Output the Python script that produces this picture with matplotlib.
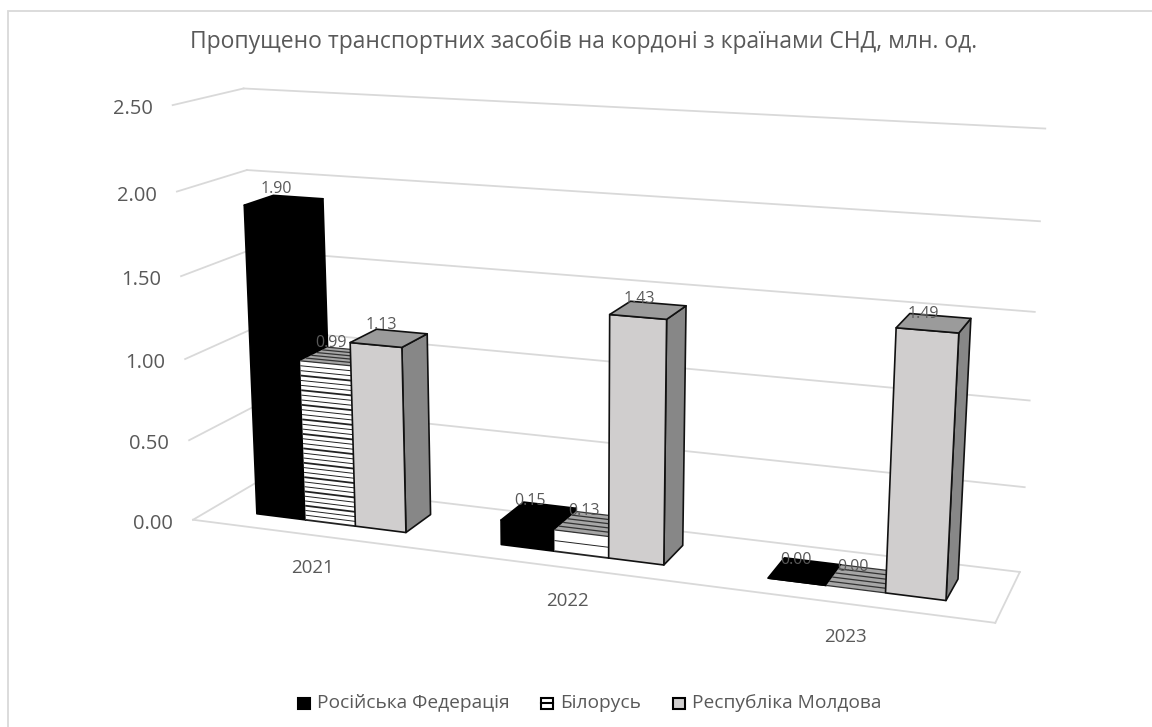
import numpy as np
import matplotlib
matplotlib.use('Agg')
import matplotlib.pyplot as plt
from matplotlib.patches import Polygon, Rectangle

plt.rcParams['font.family'] = ['Open Sans', 'DejaVu Sans']

# data
years = ['2021', '2022', '2023']
series_names = ['Російська Федерація', 'Білорусь', 'Республіка Молдова']
russia = [1.90, 0.15, 0.00]
belarus = [0.99, 0.13, 0.00]
moldova = [1.13, 1.43, 1.49]
y_ticks = [0.0, 0.5, 1.0, 1.5, 2.0, 2.5]
title = 'Пропущено транспортних засобів на кордоні з країнами СНД, млн. од.'

GRID = '#d9d9d9'
TEXT = '#595959'

# camera calibration: (category, depth, value) -> pixel
frame_3d = np.array([[0, 0, 0], [3, 0, 0], [3, 1, 0], [0, 1, 0],
                     [0, 0, 2.5], [0, 1, 2.5], [3, 1, 2.5], [3, 1, 1.0], [0, 1, 1.5], [0, 0, 1.0]], float)
frame_px = np.array([[195, 519], [995, 625], [1020, 570], [258, 482],
                     [171, 106], [246, 87], [1045, 129], [1030, 400], [249, 252], [185, 357]], float)


def fit_camera(p3, p2):
    rows = []
    for (x, y, z), (u, v) in zip(p3, p2):
        rows.append([x, y, z, 1, 0, 0, 0, 0, -u * x, -u * y, -u * z, -u])
        rows.append([0, 0, 0, 0, x, y, z, 1, -v * x, -v * y, -v * z, -v])
    return np.linalg.svd(np.array(rows))[2][-1].reshape(3, 4)


CAM = fit_camera(frame_3d, frame_px)
order = [10]


def next_z():
    order[0] += 1
    return order[0]


def project(x, y, z):
    h = CAM @ np.array([x, y, z, 1.0])
    return h[0] / h[2], h[1] / h[2]


def quad(ax, corners, **kw):
    ax.add_patch(Polygon([project(*c) for c in corners], closed=True, zorder=next_z(), **kw))


def draw_line(ax, a, b, **kw):
    pa, pb = project(*a), project(*b)
    ax.plot([pa[0], pb[0]], [pa[1], pb[1]], zorder=next_z(), **kw)


def draw_bar(ax, x0, x1, d0, d1, val, s):
    z = val
    if s == 0:
        colors = dict(front='black', top='black', side='black')
        edge = 'black'
    elif s == 1:
        colors = dict(front='white', top='#a6a6a6', side='#808080')
        edge = '#111111'
    else:
        colors = dict(front='#d0cece', top='#9b9b9b', side='#878787')
        edge = '#111111'
    lw = 1.2
    quad(ax, [(x1, d0, 0), (x1, d1, 0), (x1, d1, z), (x1, d0, z)],
         fc=colors['side'], ec=edge, lw=lw, joinstyle='round')
    quad(ax, [(x0, d0, 0), (x1, d0, 0), (x1, d0, z), (x0, d0, z)],
         fc=colors['front'], ec=edge if s != 1 else 'none', lw=lw, joinstyle='round')
    quad(ax, [(x0, d0, z), (x1, d0, z), (x1, d1, z), (x0, d1, z)],
         fc=colors['top'], ec=edge if s != 1 else 'none', lw=lw, joinstyle='round')
    if s == 1:
        # stripes of the pattern fill
        step = 0.03 if z > 0.5 else 0.065
        for k, h in enumerate(np.arange(0, z, step)):
            draw_line(ax, (x0, d0, h), (x1, d0, h), color='#222222',
                      lw=1.3 if k % 3 == 0 else 0.7, solid_capstyle='butt')
        for t in np.linspace(d0, d1, 6):
            draw_line(ax, (x0, t, z), (x1, t, z), color='#333333', lw=0.9, solid_capstyle='butt')


fig = plt.figure(figsize=(11.52, 7.27), dpi=100)
ax = fig.add_axes([0, 0, 1, 1])
ax.set_xlim(0, 1152)
ax.set_ylim(727, 0)
ax.axis('off')

# chart border
ax.add_patch(Rectangle((8, 10.5), 1160, 740, fc='white', ec=GRID, lw=1.3, zorder=1))

# walls and floor
for t in y_ticks:
    draw_line(ax, (0, 0, t), (0, 1, t), color=GRID, lw=1.3)
    draw_line(ax, (0, 1, t), (3, 1, t), color=GRID, lw=1.3)
    px, py = project(0, 0, t)
    ax.text(px - 20, py + 4, f'{t:.2f}', ha='right', va='center', fontsize=14.5, color=TEXT)
draw_line(ax, (0, 0, 0), (3, 0, 0), color=GRID, lw=1.3)
draw_line(ax, (3, 0, 0), (3, 1, 0), color=GRID, lw=1.3)

# bars
gap = 0.19
depth0, depth1 = 0.285, 0.715
all_series = [russia, belarus, moldova]
labels = []
for i in range(len(years)):
    w = (1 - 2 * gap) / 3
    for s, vals in enumerate(all_series):
        x0 = i + gap + s * w
        x1 = x0 + w
        draw_bar(ax, x0, x1, depth0, depth1, vals[i], s)
        labels.append((project(x0 + 0.22 * w, depth1, vals[i]), vals[i]))
for (px, py), v in labels:
    # label drift in the reference grows to the right and towards the floor
    lx = px - 8 + 0.013 * (px - 277)
    ly = py - 6.5 + 0.0085 * px - 1.5 * v
    ax.text(lx, ly, f'{v:.2f}', ha='center', va='center', fontsize=11.5, color=TEXT, zorder=500)

for i, yr in enumerate(years):
    px, py = project(i + 0.5, 0, 0)
    ax.text(px, py + 33, yr, ha='center', va='center', fontsize=13.5, color=TEXT)

ax.text(584, 42, title, ha='center', va='center', fontsize=16.45, color=TEXT)

# legend
for s, (name, lx) in enumerate(zip(series_names, [298, 541, 673])):
    fc = ['black', 'white', '#d0cece'][s]
    ax.add_patch(Rectangle((lx, 697.5), 12, 11.5, fc=fc, ec='black', lw=1.5))
    if s == 1:
        ax.plot([lx, lx + 12], [703, 703], color='black', lw=1.5)
    ax.text(lx + 19, 702.5, name, ha='left', va='center', fontsize=13.8, color=TEXT)

fig.savefig('out.png', dpi=100)
